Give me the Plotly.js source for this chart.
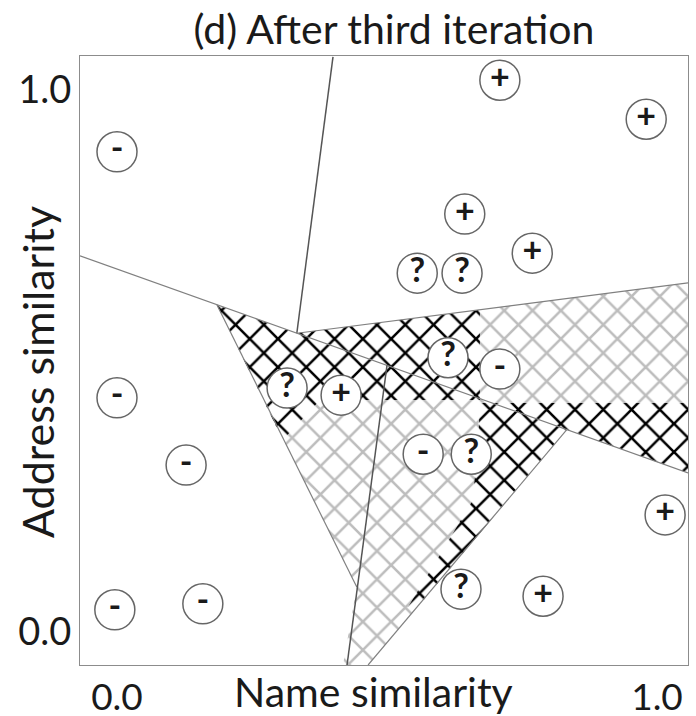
<!DOCTYPE html>
<html>
<head>
<meta charset="utf-8">
<script src="https://cdn.plot.ly/plotly-3.0.1.min.js"></script>
<style>
  html, body { margin: 0; padding: 0; background: #fff; }
  #chart { width: 696px; height: 716px; }
</style>
</head>
<body>
<div id="chart"></div>
<script>
// Labelled record pairs: name similarity (x), address similarity (y), class
const pointX = [0.709, 0.980, 0.000, 0.644, 0.769, 0.556, 0.639, 0.613, 0.709, 0.315,
                0.415, 0.000, 0.128, 0.567, 0.656, 1.015, 0.637, 0.789, -0.004, 0.159];
const pointY = [1.018, 0.946, 0.886, 0.771, 0.699, 0.662, 0.662, 0.506, 0.485, 0.450,
                0.437, 0.432, 0.308, 0.328, 0.328, 0.216, 0.079, 0.066, 0.041, 0.052];
const pointLabel = ['+', '+', '-', '+', '+', '?', '?', '?', '-', '?',
                    '+', '-', '-', '-', '?', '+', '?', '+', '-', '-'];

// Uncertain region (light hatch) outline
const lightX = [0.185, 0.333, 1.0574, 1.0574, 0.833, 0.465, 0.4185, 0.444, 0.185];
const lightY = [0.6038, 0.5512, 0.644, 0.2935, 0.3733, -0.0609, -0.0609, 0.083, 0.6038];

// Sub-regions drawn with the dark hatch
const dark1X = [0.185, 0.333, 0.672, 0.672, 0.376, 0.307, 0.185];
const dark1Y = [0.6038, 0.5512, 0.5945, 0.428, 0.428, 0.354, 0.6038];
const dark2X = [0.672, 1.0574, 1.0574, 0.833, 0.557, 0.539, 0.607, 0.659, 0.669, 0.672];
const dark2Y = [0.4225, 0.4225, 0.2935, 0.3733, 0.046, 0.046, 0.157, 0.2435, 0.354, 0.4225];

// Decision boundaries: [x0, x1], [y0, y1]
const boundaries = [
  { x: [0.400, 0.333], y: [1.061, 0.5512], strong: true },
  { x: [-0.0685, 1.0574], y: [0.694, 0.2935], strong: false },
  { x: [0.333, 1.0574], y: [0.5512, 0.644], strong: false },
  { x: [0.185, 0.444], y: [0.6038, 0.083], strong: false },
  { x: [0.500, 0.426], y: [0.4918, -0.0609], strong: true },
  { x: [0.833, 0.465], y: [0.3733, -0.0609], strong: false }
];

const tickVals = [0, 1];
const tickText = ['0.0', '1.0'];

const FONT = 'Lato, "Open Sans", sans-serif';
const INK = '#1a1a1a';

function hatch(xs, ys, color) {
  return {
    type: 'scatter', mode: 'lines', x: xs, y: ys,
    line: { width: 0 }, fill: 'toself', fillcolor: 'white',
    fillpattern: { shape: 'x', fgcolor: color, bgcolor: 'white', size: 20, solidity: 0.24 },
    hoverinfo: 'skip', showlegend: false
  };
}

const traces = [
  hatch(lightX, lightY, '#bdbdbd'),
  hatch(dark1X, dark1Y, '#000000'),
  hatch(dark2X, dark2Y, '#000000')
];

boundaries.forEach(b => {
  traces.push({
    type: 'scatter', mode: 'lines', x: b.x, y: b.y,
    line: { color: b.strong ? '#555555' : '#808080', width: b.strong ? 1.5 : 1.2 },
    hoverinfo: 'skip', showlegend: false
  });
});

traces.push({
  type: 'scatter', mode: 'markers+text', x: pointX, y: pointY, text: pointLabel,
  textposition: 'middle center',
  textfont: { family: FONT, size: 34, color: INK, weight: 'bold' },
  marker: { size: 40, color: 'white', line: { color: '#666666', width: 1.5 } },
  hoverinfo: 'skip', showlegend: false, cliponaxis: false
});

const layout = {
  width: 696, height: 716,
  margin: { l: 80, r: 8, t: 56, b: 51 },
  paper_bgcolor: 'white', plot_bgcolor: 'white',
  showlegend: false, hovermode: false,
  font: { family: FONT, color: INK },
  title: {
    text: '(d) After third iteration',
    font: { family: FONT, size: 41, color: INK },
    x: 0.566, xanchor: 'center', y: 0.958, yanchor: 'middle'
  },
  xaxis: {
    range: [-0.0685, 1.0574], tickvals: tickVals, ticktext: tickText,
    showgrid: false, zeroline: false, ticks: '',
    showline: true, mirror: true, linecolor: '#8c8c8c', linewidth: 1,
    tickfont: { family: FONT, size: 37, color: INK },
    ticklabelstandoff: 0
  },
  yaxis: {
    range: [-0.0609, 1.0627], tickvals: tickVals, ticktext: tickText,
    showgrid: false, zeroline: false, ticks: '',
    showline: true, mirror: true, linecolor: '#8c8c8c', linewidth: 1,
    tickfont: { family: FONT, size: 38, color: INK },
    ticklabelstandoff: 0
  },
  annotations: [
    { text: 'Name similarity', xref: 'paper', yref: 'paper', x: 0.482, y: -0.044,
      xanchor: 'center', yanchor: 'middle', showarrow: false,
      font: { family: FONT, size: 41, color: INK } },
    { text: 'Address similarity', xref: 'paper', yref: 'paper', x: -0.0707, y: 0.481,
      xanchor: 'center', yanchor: 'middle', showarrow: false, textangle: -90,
      font: { family: FONT, size: 43, color: INK } }
  ]
};

Plotly.newPlot('chart', traces, layout, { staticPlot: true, displayModeBar: false });
</script>
</body>
</html>
